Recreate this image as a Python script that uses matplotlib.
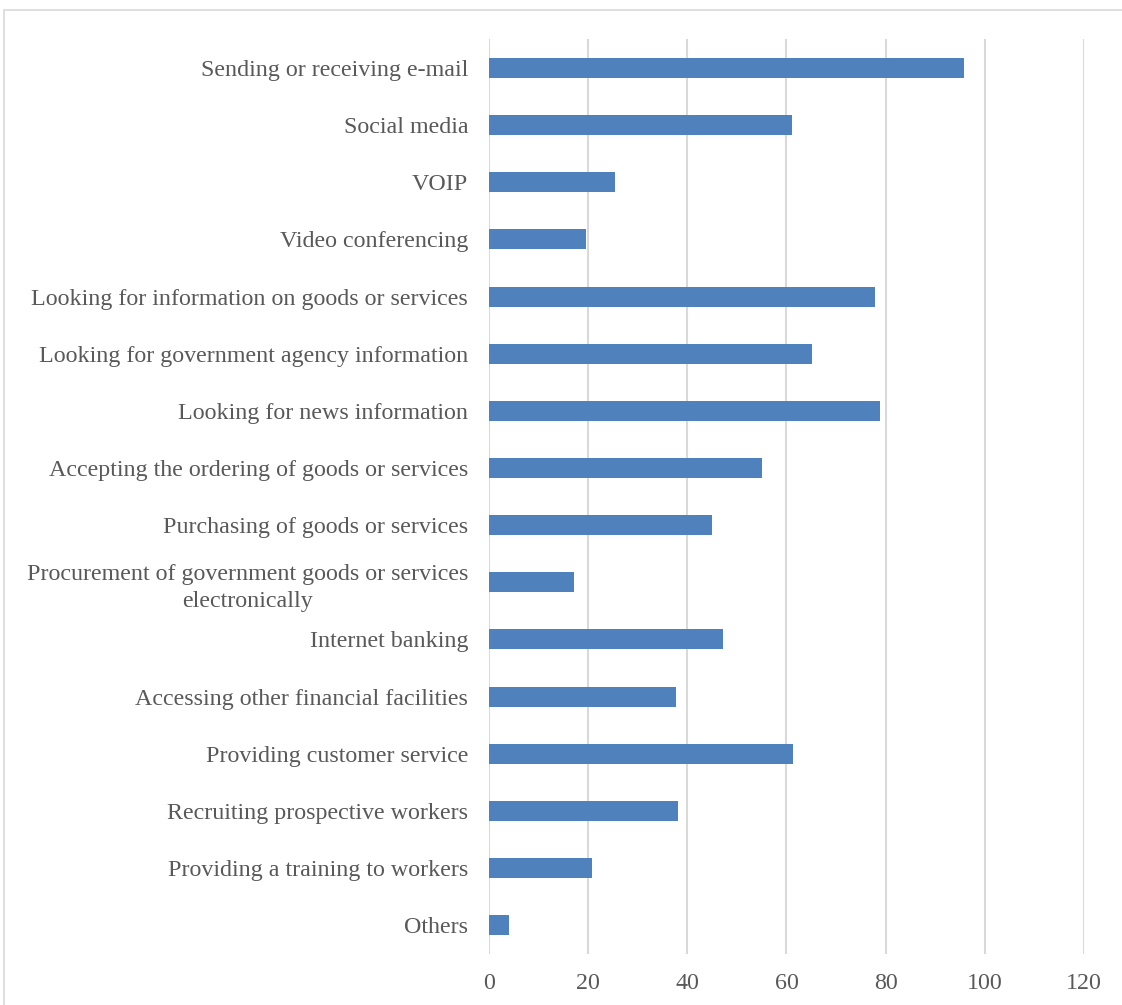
import matplotlib.pyplot as plt
import matplotlib.patches as mpatches

# === Data ===
categories = [
    "Sending or receiving e-mail",
    "Social media",
    "VOIP",
    "Video conferencing",
    "Looking for information on goods or services",
    "Looking for government agency information",
    "Looking for news information",
    "Accepting the ordering of goods or services",
    "Purchasing of goods or services",
    "Procurement of government goods or services\nelectronically",
    "Internet banking",
    "Accessing other financial facilities",
    "Providing customer service",
    "Recruiting prospective workers",
    "Providing a training to workers",
    "Others",
]
values = [95.8, 61.2, 25.5, 19.6, 77.8, 65.1, 78.8, 55.0, 45.0, 17.1,
          47.2, 37.7, 61.3, 38.1, 20.8, 4.0]
xticks = [0, 20, 40, 60, 80, 100, 120]

plt.rcParams['font.family'] = ['Liberation Serif', 'DejaVu Serif']
text_color = '#595959'

fig = plt.figure(figsize=(11.22, 10.05), dpi=100)
ax = fig.add_axes([0.4358, 0.0511, 0.5303, 0.9096])

y = list(range(len(categories)))
ax.barh(y, values, height=0.35, color='#4f81bd', zorder=3)

ax.set_ylim(len(categories) - 0.5, -0.5)
ax.set_xlim(0, 120)
ax.set_xticks(xticks)
ax.set_yticks(y)
ax.set_yticklabels(categories, multialignment='center', linespacing=1.4)
ax.tick_params(axis='y', length=0, pad=15, labelsize=17.3, labelcolor=text_color)
ax.tick_params(axis='x', length=0, pad=14, labelsize=17.3, labelcolor=text_color)

ax.grid(axis='x', color='#d9d9d9', linewidth=1.5, zorder=0)
for s in ax.spines.values():
    s.set_visible(False)

# outer chart border
fig.patches.append(mpatches.Rectangle((4 / 1122, -0.01), 1.1, (1005 - 10) / 1005 + 0.01,
                                      transform=fig.transFigure, fill=False,
                                      edgecolor='#d9d9d9', linewidth=1.2))

fig.savefig('out.png', dpi=100)
